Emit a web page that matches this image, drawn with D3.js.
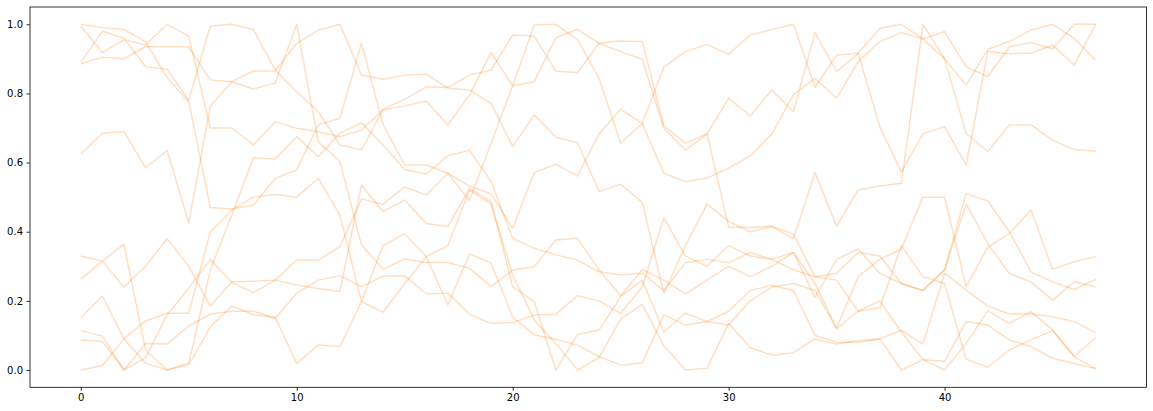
<!DOCTYPE html>
<html>
<head>
<meta charset="utf-8">
<script src="https://cdn.jsdelivr.net/npm/d3@7"></script>
<style>
  html, body { margin: 0; padding: 0; background: #ffffff; }
  svg { display: block; }
  .tick text { font-family: "DejaVu Sans", sans-serif; font-size: 10px; fill: #000; }
</style>
</head>
<body>
<svg id="chart" width="1153" height="411"></svg>
<script>
// x positions 0..47
const xs = d3.range(0, 48);
const xTicks = [0, 10, 20, 30, 40];
const yTicks = [0.0, 0.2, 0.4, 0.6, 0.8, 1.0];

const seriesA = [0.89,0.98,0.96,0.877,0.87,0.78,0.995,1.0,0.984,0.868,0.805,0.747,0.651,0.637,0.754,0.783,0.819,0.817,0.853,0.868,0.969,0.966,0.865,0.86,0.945,0.952,0.95,0.706,0.656,0.683,0.414,0.412,0.416,0.393,0.27,0.28,0.34,0.33,0.25,0.23,0.29,0.511,0.489,0.40,0.284,0.255,0.233,0.262];
const seriesB = [0.995,0.918,0.955,0.94,1.0,0.966,0.70,0.70,0.651,0.718,0.699,0.689,0.675,0.694,0.752,0.764,0.778,0.709,0.795,0.918,0.822,0.834,0.961,0.985,0.945,0.921,0.899,0.70,0.636,0.683,0.786,0.735,0.81,0.747,0.976,0.863,0.916,0.988,1.0,0.957,0.90,0.824,0.928,0.95,0.983,1.0,0.959,0.895];
const seriesC = [0.087,0.083,0.0,0.035,0.16,0.236,0.32,0.253,0.224,0.26,0.318,0.318,0.357,0.495,0.479,0.53,0.506,0.569,0.49,0.656,0.822,0.998,1.0,0.956,0.844,0.656,0.713,0.876,0.921,0.942,0.913,0.969,0.985,1.0,0.818,0.911,0.916,0.704,0.573,0.683,0.704,0.593,0.921,0.915,0.916,0.94,0.882,1.0];
const seriesD = [0.625,0.685,0.69,0.585,0.635,0.425,0.764,0.834,0.865,0.865,0.945,0.983,1.0,0.853,0.841,0.853,0.856,0.815,0.81,0.771,0.646,0.738,0.673,0.658,0.516,0.537,0.485,0.222,0.36,0.48,0.43,0.40,0.415,0.38,0.571,0.416,0.521,0.532,0.54,1.0,0.90,0.684,0.632,0.709,0.709,0.665,0.638,0.633];
const seriesE = [1.0,0.99,0.985,0.95,0.845,0.775,0.47,0.466,0.477,0.554,0.579,0.709,0.728,0.945,0.709,0.593,0.593,0.569,0.532,0.51,0.41,0.571,0.595,0.561,0.683,0.754,0.713,0.569,0.545,0.555,0.584,0.619,0.683,0.796,0.844,0.786,0.892,0.95,0.976,0.957,0.979,0.877,0.849,0.935,0.947,0.929,1.0,1.0];
const seriesF = [0.262,0.315,0.364,0.058,0.0,0.02,0.289,0.45,0.614,0.61,0.675,0.617,0.685,0.715,0.651,0.58,0.567,0.62,0.636,0.545,0.381,0.352,0.333,0.318,0.284,0.275,0.28,0.23,0.31,0.32,0.31,0.34,0.32,0.34,0.21,0.32,0.35,0.28,0.25,0.23,0.29,0.48,0.366,0.279,0.255,0.202,0.255,0.241];
const seriesG = [0.885,0.905,0.90,0.935,0.935,0.935,0.839,0.834,0.813,0.83,1.0,0.66,0.603,0.362,0.292,0.321,0.311,0.311,0.294,0.241,0.289,0.299,0.376,0.381,0.289,0.214,0.29,0.26,0.22,0.26,0.30,0.27,0.30,0.34,0.25,0.12,0.27,0.32,0.35,0.50,0.50,0.241,0.355,0.395,0.463,0.291,0.313,0.328];
const seriesH = [0.33,0.315,0.24,0.30,0.38,0.30,0.185,0.255,0.257,0.26,0.246,0.236,0.227,0.535,0.458,0.492,0.424,0.415,0.525,0.487,0.241,0.198,0.0,0.103,0.116,0.212,0.26,0.11,0.165,0.14,0.17,0.23,0.245,0.23,0.10,0.08,0.08,0.09,0.115,0.075,0.28,0.231,0.185,0.162,0.162,0.154,0.14,0.108];
const seriesI = [0.0,0.013,0.09,0.142,0.164,0.164,0.40,0.463,0.50,0.508,0.50,0.554,0.448,0.198,0.167,0.25,0.328,0.36,0.52,0.48,0.275,0.145,0.077,0.0,0.036,0.147,0.19,0.07,0.0,0.005,0.135,0.065,0.043,0.05,0.09,0.075,0.085,0.09,0.0,0.03,0.025,0.14,0.13,0.087,0.068,0.034,0.019,0.004];
const seriesJ = [0.151,0.214,0.09,0.02,0.0,0.015,0.125,0.185,0.16,0.153,0.019,0.072,0.068,0.198,0.36,0.395,0.328,0.188,0.336,0.309,0.154,0.101,0.089,0.072,0.039,0.014,0.02,0.16,0.13,0.14,0.13,0.20,0.24,0.25,0.23,0.12,0.17,0.20,0.11,0.03,0.0,0.077,0.171,0.135,0.169,0.116,0.039,0.094];
const seriesK = [0.114,0.098,0.0,0.077,0.075,0.127,0.162,0.17,0.17,0.149,0.222,0.26,0.273,0.241,0.272,0.273,0.22,0.223,0.161,0.135,0.137,0.159,0.161,0.215,0.20,0.164,0.24,0.44,0.33,0.30,0.36,0.33,0.32,0.29,0.27,0.26,0.17,0.18,0.36,0.27,0.25,0.031,0.008,0.058,0.087,0.114,0.039,0.004];

const allSeries = [seriesA, seriesB, seriesC, seriesD, seriesE, seriesF, seriesG, seriesH, seriesI, seriesJ, seriesK];

const W = 1153, H = 411;
const margin = { left: 30, right: W - 1146.5, top: 7, bottom: H - 387.3 };

const svg = d3.select("#chart");

const x = d3.scaleLinear().domain([-2.35, 49.35]).range([margin.left, W - margin.right]);
const y = d3.scaleLinear().domain([-0.05, 1.05]).range([H - margin.bottom, margin.top]);

const line = d3.line().x((d, i) => x(xs[i])).y(d => y(d));

const g = svg.append("g");
g.selectAll("path.series")
  .data(allSeries)
  .join("path")
  .attr("class", "series")
  .attr("d", d => line(d))
  .attr("fill", "none")
  .attr("stroke", "#ff7f0e")
  .attr("stroke-opacity", 0.25)
  .attr("stroke-width", 1.5)
  .attr("stroke-linejoin", "round");

// frame
svg.append("rect")
  .attr("x", margin.left)
  .attr("y", margin.top)
  .attr("width", W - margin.right - margin.left)
  .attr("height", H - margin.bottom - margin.top)
  .attr("fill", "none")
  .attr("stroke", "#000")
  .attr("stroke-width", 0.8);

const xAxis = d3.axisBottom(x).tickValues(xTicks).tickFormat(d3.format("d")).tickSize(3.5).tickPadding(3.5);
const yAxis = d3.axisLeft(y).tickValues(yTicks).tickFormat(d3.format(".1f")).tickSize(3.5).tickPadding(3.5);

const gx = svg.append("g").attr("transform", `translate(0,${H - margin.bottom})`).call(xAxis);
const gy = svg.append("g").attr("transform", `translate(${margin.left},0)`).call(yAxis);
[gx, gy].forEach(a => {
  a.select(".domain").remove();
  a.selectAll(".tick line").attr("stroke", "#000").attr("stroke-width", 0.8);
});
</script>
</body>
</html>
